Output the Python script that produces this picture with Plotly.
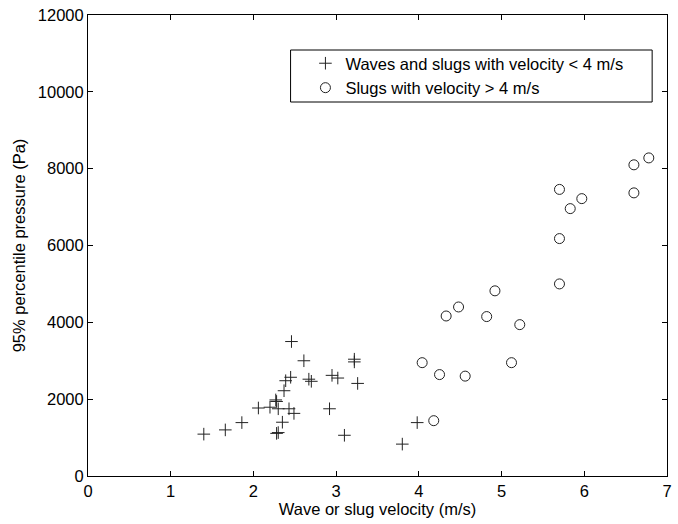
import plotly.graph_objects as go

# Waves and slugs with velocity < 4 m/s
wave_v = [1.40, 1.66, 1.86, 2.06, 2.20, 2.27, 2.28, 2.30, 2.43, 2.49, 2.35, 2.28, 2.30,
          2.37, 2.39, 2.45, 2.46, 2.61, 2.67, 2.70, 2.95, 3.02, 3.22, 3.22, 3.26, 2.92,
          3.10, 3.80, 3.98]
wave_p = [1090, 1200, 1390, 1770, 1790, 1980, 1940, 1750, 1750, 1630, 1400, 1110, 1130,
          2220, 2480, 2570, 3500, 3000, 2520, 2465, 2620, 2550, 3040, 2970, 2410, 1750,
          1060, 830, 1390]

# Slugs with velocity > 4 m/s
slug_v = [4.04, 4.25, 4.18, 4.56, 5.12, 4.33, 4.48, 4.82, 4.92, 5.22, 5.70, 5.70, 5.70,
          5.83, 5.97, 6.60, 6.78, 6.60]
slug_p = [2950, 2640, 1440, 2600, 2950, 4165, 4400, 4150, 4820, 3940, 5000, 6180, 7460,
          6960, 7220, 8100, 8280, 7370]

x_ticks = [0, 1, 2, 3, 4, 5, 6, 7]
y_ticks = [0, 2000, 4000, 6000, 8000, 10000, 12000]

W, H = 678, 524
L, R, T, B = 87.5, 6, 15, 48
pw, ph = W - L - R, H - T - B
FONT = "Liberation Sans, Arial"
FS = 16.5

fig = go.Figure()
fig.add_trace(go.Scatter(
    x=wave_v, y=wave_p, mode="markers",
    name="Waves and slugs with velocity < 4 m/s",
    marker=dict(symbol="cross-thin-open", size=9, color="#222",
                line=dict(width=1, color="#222")),
))
fig.add_trace(go.Scatter(
    x=slug_v, y=slug_p, mode="markers",
    name="Slugs with velocity > 4 m/s",
    marker=dict(symbol="circle-open", size=10, color="#222",
                line=dict(width=1, color="#222")),
))

def px2x(p):
    return (p - L) / pw

def px2y(p):
    return (H - B - p) / ph

# legend box
fig.add_shape(type="rect", xref="paper", yref="paper",
              x0=px2x(292), x1=px2x(657), y0=px2y(102), y1=px2y(50),
              line=dict(color="black", width=1), fillcolor="white", layer="below")

axis_common = dict(
    showline=True, linecolor="black", linewidth=1, mirror="ticks",
    ticks="inside", ticklen=5, tickcolor="black", showgrid=False, zeroline=False,
    tickfont=dict(family=FONT, size=FS, color="black"),
)

fig.update_layout(
    width=W, height=H,
    margin=dict(l=L, r=R, t=T, b=B),
    paper_bgcolor="white", plot_bgcolor="white",
    font=dict(family=FONT, size=FS, color="black"),
    xaxis=dict(range=[0, 7], tickvals=x_ticks, ticktext=[str(v) for v in x_ticks],
               title=dict(text="Wave or slug velocity (m/s)", standoff=0,
                          font=dict(size=FS)),
               **axis_common),
    yaxis=dict(range=[0, 12000], tickvals=y_ticks, ticktext=[str(v) for v in y_ticks],
               title=dict(text="95% percentile pressure (Pa)", standoff=8,
                          font=dict(size=FS)),
               **axis_common),
    legend=dict(x=px2x(307), y=px2y(46), xanchor="left", yanchor="top",
                bgcolor="rgba(0,0,0,0)", borderwidth=0,
                font=dict(size=FS), tracegroupgap=0),
    showlegend=True,
)

fig.write_html("out.html")
